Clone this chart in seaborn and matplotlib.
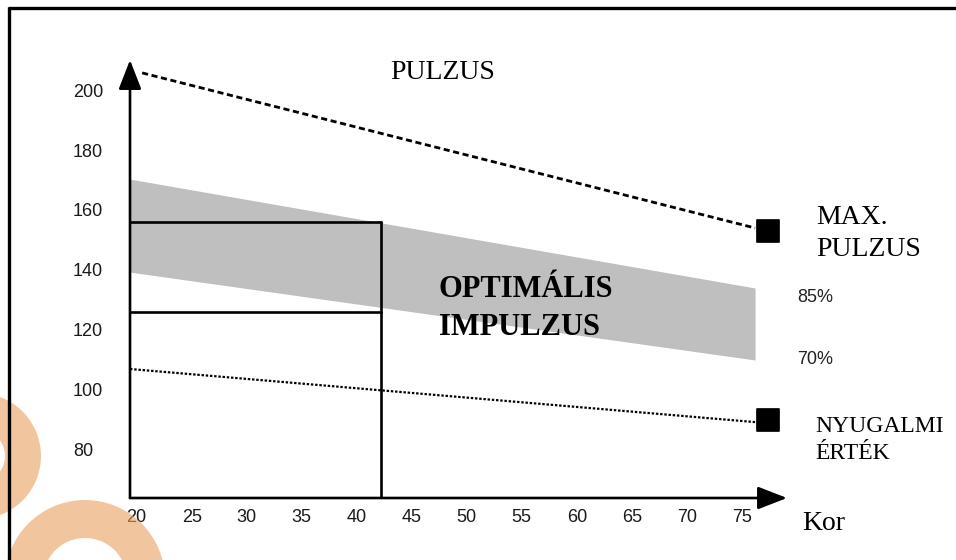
import matplotlib
matplotlib.use("Agg")
import matplotlib.pyplot as plt
from matplotlib.patches import Wedge
import numpy as np
import seaborn as sns

# pulse vs. age chart values
ages_max = [20.5, 76.2]
max_pulse = [205.7, 154.0]
ages_band = [19.4, 76.2]
band_85 = [170.3, 134.0]
band_70 = [139.3, 110.0]
ages_rest = [19.4, 76.2]
rest_pulse = [107.0, 89.3]
marker_age = [77.4, 77.4]
marker_pulse = [153.0, 90.0]
box_age = [19.4, 42.2]
box_top = 156.0
box_mid = 126.0

x_ticks = [20, 25, 30, 35, 40, 45, 50, 55, 60, 65, 70, 75]
y_ticks = [80, 100, 120, 140, 160, 180, 200]

sns.set_style("white")
serif = ["Liberation Serif", "DejaVu Serif"]
sans = ["Liberation Sans", "DejaVu Sans"]

fig = plt.figure(figsize=(9.56, 5.6), dpi=100)
ax = fig.add_axes([130 / 956, 62 / 560, 657 / 956, 438 / 560])
ax.set_xlim(19.4, 79.1)
ax.set_ylim(64, 210)
for s in ax.spines.values():
    s.set_visible(False)

ax.fill_between(ages_band, band_70, band_85, color="#bfbfbf", lw=0, zorder=1)
sns.lineplot(x=ages_max, y=max_pulse, ax=ax, color="k", lw=2.0,
             linestyle=(0, (2.2, 1.3)), zorder=3)
sns.lineplot(x=ages_rest, y=rest_pulse, ax=ax, color="k", lw=1.6,
             linestyle=(0, (1.1, 0.8)), zorder=3)
sns.scatterplot(x=marker_age, y=marker_pulse, ax=ax, marker="s", s=240,
                color="k", edgecolor="k", zorder=4)

# box around the optimal zone at age ~42
ax.plot(box_age, [box_top, box_top], color="k", lw=1.9, zorder=3)
ax.plot(box_age, [box_mid, box_mid], color="k", lw=1.9, zorder=3)
ax.plot([box_age[1], box_age[1]], [64, box_top], color="k", lw=1.9, zorder=3)

# arrow axes
arr = dict(arrowstyle="-|>,head_length=0.9,head_width=0.35", color="k",
           lw=1.9, mutation_scale=20, shrinkA=0, shrinkB=0)
ax.annotate("", xy=(0, 1), xytext=(0, 0), xycoords="axes fraction",
            arrowprops=arr, annotation_clip=False)
ax.annotate("", xy=(1, 0), xytext=(0, 0), xycoords="axes fraction",
            arrowprops=arr, annotation_clip=False)

ax.set_xticks(x_ticks)
ax.set_xticklabels([str(v) for v in x_ticks])
ax.set_yticks(y_ticks)
ax.set_yticklabels([str(v) for v in y_ticks])
ax.tick_params(axis="both", length=0, labelsize=13, labelcolor="#1a1a1a")
ax.tick_params(axis="x", pad=8)
ax.tick_params(axis="y", pad=41)
for lbl in ax.get_yticklabels():
    lbl.set_ha("left")
    lbl.set_family(sans)
for lbl in ax.get_xticklabels():
    lbl.set_family(sans)

# overlay in pixel coordinates for labels, frame and decoration
ov = fig.add_axes([0, 0, 1, 1], zorder=5)
ov.set_xlim(0, 956)
ov.set_ylim(560, 0)
ov.axis("off")
ov.patch.set_alpha(0)

ov.plot([8, 956], [8, 8], color="k", lw=2.4, solid_capstyle="butt")
ov.plot([9, 9], [7, 560], color="k", lw=2.4, solid_capstyle="butt")

txt = dict(family=serif, color="k", va="baseline")
ov.text(390, 79, "PULZUS", fontsize=20, **txt)
ov.text(816, 224, "MAX.", fontsize=20, **txt)
ov.text(816, 256, "PULZUS", fontsize=20, **txt)
ov.text(815, 432, "NYUGALMI", fontsize=17, **txt)
ov.text(815, 459, "ÉRTÉK", fontsize=17, **txt)
ov.text(802, 530, "Kor", fontsize=20, **txt)
ov.text(439, 297, "OPTIMÁLIS", fontsize=22, weight="bold", **txt)
ov.text(439, 335, "IMPULZUS", fontsize=22, weight="bold", **txt)
ov.text(797, 298, "85%", family=sans, fontsize=13, color="#222222",
        va="center")
ov.text(797, 360, "70%", family=sans, fontsize=13, color="#222222",
        va="center")

for c, ro, ri in [((-22, 456), 63, 27), ((85, 580), 80, 42)]:
    ov.add_patch(Wedge(c, ro, 0, 360, width=ro - ri, color="#e8a060",
                       alpha=0.6, lw=0))

fig.savefig("out.png", dpi=100)
